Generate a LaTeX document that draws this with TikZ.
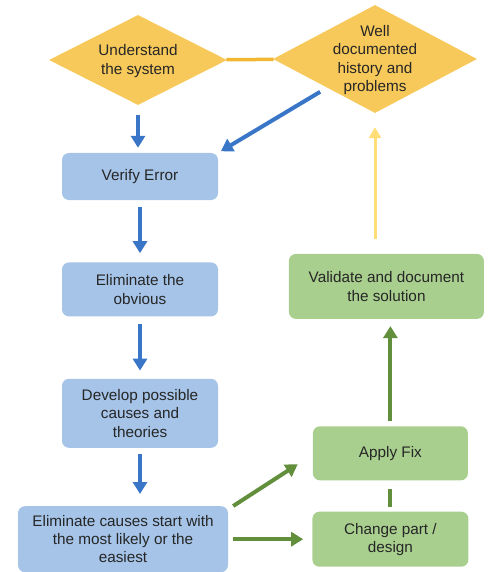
\documentclass[tikz,border=0pt]{standalone}
\usepackage{fontspec}
\setmainfont{Liberation Sans}
\usetikzlibrary{shapes.geometric,arrows.meta,positioning}
\definecolor{decisionyellow}{RGB}{247, 201, 90}
\definecolor{linkorange}{RGB}{242, 182, 50}
\definecolor{arrowyellow}{RGB}{255, 222, 120}
\definecolor{stepblue}{RGB}{165, 196, 232}
\definecolor{arrowblue}{RGB}{58, 118, 200}
\definecolor{fixgreen}{RGB}{169, 207, 143}
\definecolor{arrowgreen}{RGB}{98, 143, 60}

\begin{document}
\begin{tikzpicture}[
    x=1pt, y=-1pt,
    every node/.style={align=center, font=\fontsize{15.3}{18.3}\selectfont, text=black!85},
    decision/.style={diamond, fill=decisionyellow, inner sep=0pt},
    stepbox/.style={rectangle, rounded corners=7pt, fill=stepblue, minimum width=156pt, inner sep=2pt},
    fixbox/.style={rectangle, rounded corners=7pt, fill=fixgreen, minimum width=156pt, inner sep=2pt},
    bluearrow/.style={line width=4pt, draw=arrowblue, -{Triangle[length=12pt,width=14pt]}},
    greenarrow/.style={line width=4pt, draw=arrowgreen, -{Triangle[length=12pt,width=14pt]}},
    greenline/.style={line width=4pt, draw=arrowgreen},
    yellowarrow/.style={line width=3pt, draw=arrowyellow, -{Triangle[length=11pt,width=12pt]}},
    yellowline/.style={line width=3.5pt, draw=linkorange}
]
\useasboundingbox (0,0) rectangle (488,572);

% Decisions
\node[decision, minimum width=178pt, minimum height=90pt] (understand) at (138,60) {};
\node (understandtext) at (138,61) {Understand\\the system};
\node[decision, minimum width=204pt, minimum height=108pt] (history) at (375,59) {};
\node (historytext) at (375,60) {Well\\documented\\history and\\problems};

% Troubleshooting steps
\node[stepbox, minimum height=47pt] (verify) at (140,176.5) {Verify Error};
\node[stepbox, minimum height=54pt, below=62pt of verify] (obvious) {Eliminate the\\obvious};
\node[stepbox, minimum height=69pt, below=62pt of obvious] (theories) {Develop possible\\causes and\\theories};
\node[stepbox, minimum width=210pt, minimum height=66pt, below=58pt of theories, xshift=-17pt] (causes) {Eliminate causes start with\\the most likely or the\\easiest};

% Fix steps
\node[fixbox, minimum height=55pt, right=84pt of causes] (change) {Change part /\\design};
\node[fixbox, minimum width=155pt, minimum height=54pt, above=31pt of change] (applyfix) {Apply Fix};
\node[fixbox, minimum width=195pt, minimum height=65pt, above=107pt of applyfix, xshift=-4pt] (validate) {Validate and document\\the solution};

% Connections
\draw[yellowline] (understand) -- (history);
\draw[bluearrow, shorten <=10pt, shorten >=5pt] (understand.south) -- (understand.south |- verify.north);
\draw[bluearrow, shorten <=8pt, shorten >=3pt] (history) -- (verify.north east);
\draw[bluearrow, shorten <=7pt, shorten >=9pt] (verify) -- (obvious);
\draw[bluearrow, shorten <=7pt, shorten >=8pt] (obvious) -- (theories);
\draw[bluearrow, shorten <=6pt, shorten >=12pt] (theories.south) -- (theories.south |- causes.north);
\draw[greenarrow] ([xshift=5pt]causes.north east) -- ([xshift=-15pt,yshift=-11pt]applyfix.west);
\draw[greenarrow, shorten <=5pt, shorten >=9pt] (causes.east) -- (change.west);
\draw[greenline, shorten <=5pt, shorten >=8pt] (change) -- (applyfix);
\draw[greenarrow, shorten <=5pt, shorten >=7pt] (applyfix) -- (applyfix |- validate.south);
\draw[yellowarrow, shorten <=15pt, shorten >=14pt] (history.south |- validate.north) -- (history.south);

\end{tikzpicture}
\end{document}
